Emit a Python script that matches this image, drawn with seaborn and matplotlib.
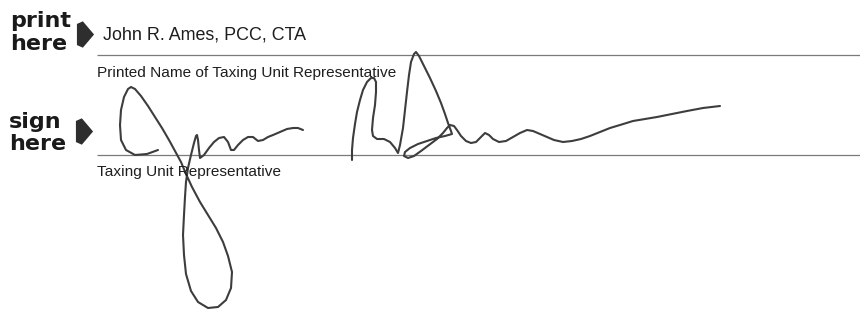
import matplotlib
matplotlib.use("Agg")
import matplotlib.pyplot as plt
import seaborn as sns
import pandas as pd

# signature strokes in pixel coordinates (y down)
sig1_x = [158, 147, 135, 126, 121, 120, 121, 124, 128, 131, 135, 141, 148, 155, 162, 169, 175,
          181, 186, 192, 200, 208, 216, 223, 228, 232, 231, 226, 218, 208, 198, 191, 186, 184,
          183, 184, 185, 186, 188, 191, 194, 196, 197, 198, 199, 200, 204, 209, 214, 219, 224,
          228, 231, 234, 238, 243, 248, 253, 258, 263, 268, 273, 280, 287, 293, 298, 303]
sig1_y = [150, 154, 155, 150, 140, 125, 110, 97, 89, 87, 89, 96, 106, 117, 128, 140, 151,
          162, 174, 187, 202, 215, 228, 242, 256, 272, 288, 300, 307, 308, 302, 291, 274, 255,
          235, 215, 197, 182, 168, 155, 143, 136, 135, 140, 150, 158, 155, 148, 142, 138, 137,
          142, 150, 150, 145, 140, 137, 137, 141, 140, 137, 135, 132, 129, 128, 128, 130]

sig2_x = [352, 352, 353, 355, 357, 360, 363, 367, 371, 374, 376, 376, 375, 373, 372, 373, 377,
          384, 390, 395, 398, 400, 403, 405, 407, 409, 411, 414, 416, 419, 424, 430, 436, 441,
          445, 448, 451, 452, 445, 436, 427, 418, 410, 405, 404, 408, 414, 421, 429, 437, 443,
          447, 450, 454, 457, 461, 466, 471, 476, 481, 485, 489, 493, 499, 506, 513, 520, 527,
          533, 540, 547, 554, 563, 572, 581, 590, 600, 610, 620, 633, 645, 657, 672, 687, 703, 720]
sig2_y = [160, 150, 138, 124, 112, 100, 90, 82, 78, 78, 82, 92, 105, 118, 130, 136, 139,
          139, 142, 148, 153, 145, 128, 110, 92, 75, 62, 54, 52, 56, 66, 78, 91, 103,
          114, 123, 131, 134, 136, 138, 141, 144, 148, 152, 156, 158, 156, 151, 145, 139, 133,
          128, 125, 126, 130, 136, 141, 143, 142, 137, 133, 135, 139, 142, 141, 137, 133, 130,
          131, 134, 137, 140, 142, 141, 139, 136, 132, 128, 125, 121, 119, 117, 114, 111, 108, 106]

rule_y = [55, 155]
labels = ["Printed Name of Taxing Unit Representative", "Taxing Unit Representative"]
printed_name = "John R. Ames, PCC, CTA"

strokes = pd.concat([
    pd.DataFrame({"x": sig1_x, "y": sig1_y, "stroke": 1}),
    pd.DataFrame({"x": sig2_x, "y": sig2_y, "stroke": 2}),
])

sns.set_style("white")
fig = plt.figure(figsize=(8.6, 3.11), dpi=100)
ax = fig.add_axes([0, 0, 1, 1])

# form rules
ax.hlines(rule_y, 97, 860, color="#7a7a7a", linewidth=0.9)

# signature
sns.lineplot(data=strokes, x="x", y="y", units="stroke", estimator=None, sort=False,
             color="#3d3d3d", linewidth=1.5, ax=ax, legend=False)
for ln in ax.lines:
    ln.set_solid_joinstyle("round")
    ln.set_solid_capstyle("round")

# "print here" / "sign here" prompts
bold = dict(fontsize=16, fontweight="bold", color="#1a1a1a", family="DejaVu Sans", va="baseline")
ax.text(10, 27, "print", **bold)
ax.text(10, 50, "here", **bold)
ax.text(9, 128, "sign", **bold)
ax.text(9, 150, "here", **bold)

arrow = [(-0.65, -0.8), (-0.2, -1.0), (0.65, 0.0), (-0.2, 1.0), (-0.65, 0.8)]
ax.scatter([85, 84], [34, 131], marker=arrow, s=19 ** 2, color="#2e2e2e", linewidths=0)

ax.text(103, 40, printed_name, fontsize=12.9, family="Liberation Sans", color="#1e1e1e", va="baseline")
ax.text(97, 77, labels[0], fontsize=11.1, family="Liberation Sans", color="#1e1e1e", va="baseline")
ax.text(97, 176, labels[1], fontsize=11.1, family="Liberation Sans", color="#1e1e1e", va="baseline")

ax.set_xlim(0, 860)
ax.set_ylim(311, 0)
ax.axis("off")

fig.savefig("out.png", dpi=100, facecolor="white")
